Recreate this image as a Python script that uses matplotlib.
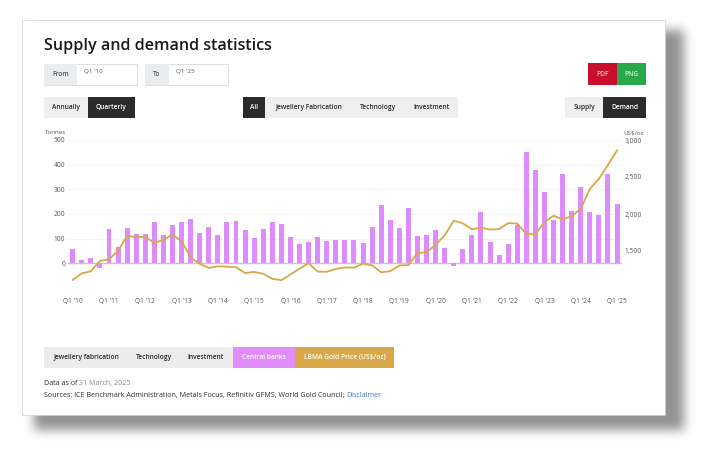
import numpy as np
import matplotlib
matplotlib.use("Agg")
import matplotlib.pyplot as plt
from matplotlib.patches import Rectangle

plt.rcParams['font.family'] = ['Open Sans', 'DejaVu Sans']

W, H = 708, 458

# quarterly central bank demand (tonnes), Q1'10 .. Q1'25
central_banks = [59, 12, 23, -20,
                 140, 67, 145, 117,
                 120, 168, 116, 156,
                 168, 180, 124, 148,
                 116, 169, 173, 134,
                 101, 140, 169, 159,
                 108, 79, 85, 108,
                 89, 94, 94, 93,
                 81, 148, 237, 176,
                 144, 224, 112, 116,
                 137, 62, -12, 60,
                 113, 208, 87, 32,
                 79, 157, 452, 379,
                 289, 175, 364, 214,
                 308, 210, 196, 364,
                 241]

# LBMA gold price, quarterly average (US$/oz)
gold_price = [1109, 1197, 1227, 1367,
              1386, 1506, 1702, 1688,
              1691, 1609, 1652, 1722,
              1632, 1415, 1326, 1272,
              1293, 1288, 1282, 1201,
              1218, 1192, 1124, 1106,
              1183, 1260, 1335, 1222,
              1219, 1257, 1278, 1275,
              1329, 1306, 1213, 1226,
              1304, 1309, 1472, 1483,
              1583, 1711, 1909, 1874,
              1794, 1816, 1790, 1795,
              1877, 1871, 1729, 1726,
              1890, 1976, 1928, 1971,
              2070, 2338, 2474, 2663,
              2860]

years = list(range(10, 26))
quarter_labels = ["Q1 '%02d" % y for y in years]
left_ticks = [0, 100, 200, 300, 400, 500]
right_ticks = [1500, 2000, 2500, 3000]
right_labels = ['1,500', '2,000', '2,500', '3,000']

BAR = '#dd8cfd'
GOLD = '#d8a748'
DARK = '#2b2b2b'
LIGHT = '#efefef'

fig = plt.figure(figsize=(W / 100, H / 100), dpi=100)
bg = fig.add_axes([0, 0, 1, 1])
bg.axis('off')

# drop shadow behind the card
mask = np.zeros((H, W))
mask[30:430, 34:684] = 1.0
k = np.ones(9) / 9.0
for _ in range(4):
    mask = np.apply_along_axis(lambda r: np.convolve(r, k, mode='same'), 1, mask)
    mask = np.apply_along_axis(lambda c: np.convolve(c, k, mode='same'), 0, mask)
rgba = np.zeros((H, W, 4))
rgba[..., 3] = mask * 0.43
bg.imshow(rgba, extent=(0, W, H, 0), aspect='auto', zorder=0)
bg.set_xlim(0, W)
bg.set_ylim(H, 0)

bg.add_patch(Rectangle((22, 20), 643, 395, facecolor='white', edgecolor='#cfcfcf', lw=0.5, zorder=1))


def button(x0, x1, y0, y1, label, fc, tc, fs=4.8, ec='none'):
    bg.add_patch(Rectangle((x0, y0), x1 - x0, y1 - y0, facecolor=fc, edgecolor=ec, lw=0.6, zorder=2))
    if label:
        bg.text((x0 + x1) / 2, (y0 + y1) / 2, label, ha='center', va='center',
                color=tc, fontsize=fs, fontweight='semibold', zorder=3)


bg.text(44, 46, 'Supply and demand statistics', fontsize=11.6, fontweight='semibold',
        va='center', color='#1a1a1a', zorder=3)

# date pickers
button(44, 137, 64, 85, '', 'white', DARK, ec='#d8d8d8')
button(44, 77, 64, 85, 'From', '#eaedf0', '#555555')
bg.text(84, 71, "Q1 '10", fontsize=4.5, color='#555555', va='center', zorder=3)
button(145, 228, 64, 85, '', 'white', DARK, ec='#d8d8d8')
button(145, 169, 64, 85, 'To', '#eaedf0', '#555555')
bg.text(176, 71, "Q1 '25", fontsize=4.5, color='#555555', va='center', zorder=3)

button(588, 617, 63, 85, 'PDF', '#c8102e', '#f3c0c8')
button(617, 646, 63, 85, 'PNG', '#2aa84a', '#c8f0d0')

# toggles
button(44, 88, 97, 118, 'Annually', LIGHT, DARK)
button(88, 135, 97, 118, 'Quarterly', DARK, 'white')
button(243, 458, 97, 118, '', LIGHT, DARK)
button(243, 265, 97, 118, 'All', DARK, 'white')
bg.text(309, 107.5, 'Jewellery Fabrication', ha='center', va='center', fontsize=4.8,
        fontweight='semibold', color=DARK, zorder=3)
bg.text(378, 107.5, 'Technology', ha='center', va='center', fontsize=4.8,
        fontweight='semibold', color=DARK, zorder=3)
bg.text(431, 107.5, 'Investment', ha='center', va='center', fontsize=4.8,
        fontweight='semibold', color=DARK, zorder=3)
button(565, 603, 97, 118, 'Supply', LIGHT, DARK)
button(603, 646, 97, 118, 'Demand', DARK, 'white')

# chart
ax = fig.add_axes([68 / W, 1 - 288 / H, (622 - 68) / W, 148 / H])
ax.set_facecolor('none')
x = np.arange(len(central_banks))
for v in [100, 200, 300, 400, 500]:
    ax.axhline(v, color='#f1f1f1', lw=0.6, zorder=0)
ax.axhline(-100, color='#ececec', lw=0.6, zorder=0)
ax.bar(x, central_banks, width=0.55, color=BAR, zorder=2)
ax.axhline(0, color='#c6c6c6', lw=1.0, zorder=1)
ax.set_xlim(-0.52, 60.55)
ax.set_ylim(-100, 500)
ax.set_yticks(left_ticks)
ax.set_yticklabels([str(v) for v in left_ticks])
ax.set_xticks(x[::4])
ax.set_xticklabels(quarter_labels)
ax.tick_params(axis='both', length=0, labelsize=4.8, labelcolor='#555555')
ax.tick_params(axis='x', pad=7)
ax.tick_params(axis='y', pad=2)
for s in ax.spines.values():
    s.set_visible(False)

ax2 = ax.twinx()
ax2.plot(x, gold_price, color=GOLD, lw=1.3, zorder=3)
ax2.set_ylim(1000, 3000)
ax2.set_yticks(right_ticks)
ax2.set_yticklabels(right_labels)
ax2.tick_params(axis='y', length=0, labelsize=4.8, labelcolor='#555555', pad=2)
for s in ax2.spines.values():
    s.set_visible(False)

bg.text(66, 133, 'Tonnes', ha='right', va='center', fontsize=4.5, color='#555555', zorder=3)
bg.text(623, 133, 'US\\$/oz', ha='left', va='center', fontsize=4.5, color='#555555', zorder=3)

# legend
button(44, 233, 347, 368, '', '#ececec', DARK)
for lx, lab in [(86, 'Jewellery fabrication'), (154, 'Technology'), (206, 'Investment')]:
    bg.text(lx, 357.5, lab, ha='center', va='center', fontsize=4.8,
            fontweight='semibold', color=DARK, zorder=3)
button(233, 295, 347, 368, 'Central banks', '#e08cf9', 'white')
button(295, 394, 347, 368, 'LBMA Gold Price (US\\$/oz)', GOLD, 'white')

# footer with mixed colours
fig.canvas.draw()
renderer = fig.canvas.get_renderer()


def run_text(x0, y, parts, fs=5.1):
    xp = x0
    for s, c in parts:
        t = bg.text(xp, y, s, fontsize=fs, color=c, va='baseline', ha='left', zorder=3)
        bb = t.get_window_extent(renderer)
        xp = xp + bb.width * 100 / fig.dpi


run_text(44, 385, [('Data as of ', DARK), ('31 March, 2025', '#888888')])
run_text(44, 397, [('Sources: ICE Benchmark Administration, Metals Focus, Refinitiv GFMS, World Gold Council; ', DARK),
                   ('Disclaimer', '#3a78c0')])

fig.savefig('out.png', dpi=100)
